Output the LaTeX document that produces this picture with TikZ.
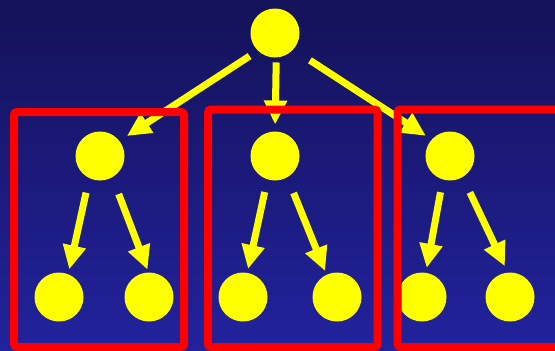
\documentclass[tikz,border=0pt]{standalone}
\usetikzlibrary{arrows.meta}
\definecolor{skytop}{RGB}{20,18,88}
\definecolor{skybottom}{RGB}{34,34,158}
\definecolor{nodeyellow}{RGB}{255,255,0}
\definecolor{groupred}{RGB}{255,0,0}
\tikzset{
    tree diagram/.style = {x=1pt, y=-1pt},
    dot/.style          = {circle, fill=nodeyellow, draw=none,
                           minimum size=49pt, inner sep=0pt, outer sep=0pt},
    link/.style         = {draw=nodeyellow, line width=7pt,
                           -{Triangle[width=22pt, length=24pt]}},
    group/.style        = {draw=groupred, line width=8pt, rounded corners=3pt}
}

\begin{document}
\begin{tikzpicture}[tree diagram]

% ================= Background =================
\useasboundingbox (0, 0) rectangle (555, 351);
\shade[top color=skytop, bottom color=skybottom] (0, 0) rectangle (555, 351);

% ================= Root =================
\node[dot] (root) at (275, 33) {};

% ================= Second level =================
\node[dot] (A) at (100, 156) {};
\node[dot] (B) at (275, 156) {};
\node[dot] (C) at (450, 156) {};

% ================= Leaves =================
\node[dot] (A1) at (59, 297) {};
\node[dot] (A2) at (149, 297) {};
\node[dot] (B1) at (243, 297) {};
\node[dot] (B2) at (337, 297) {};
\node[dot] (C1) at (422, 297) {};
\node[dot] (C2) at (510, 297) {};

% ================= Links from the root =================
\draw[link, shorten <=10pt, shorten >=9pt] (root.226) -- (A.38);
\draw[link, shorten <=5pt,  shorten >=7pt] (root.273) -- (B.90);
\draw[link, shorten <=20pt, shorten >=7pt] (root.318) -- (C.138);

% ================= Links to the leaves =================
\draw[link, shorten <=15pt, shorten >=5pt] (A.244) -- (A1.68);
\draw[link, shorten <=18pt, shorten >=3pt] (A.300) -- (A2.91);
\draw[link, shorten <=13pt, shorten >=4pt] (B.252) -- (B1.80);
\draw[link, shorten <=17pt, shorten >=4pt] (B.300) -- (B2.115);
\draw[link, shorten <=13pt, shorten >=5pt] (C.253) -- (C1.81);
\draw[link, shorten <=17pt, shorten >=7pt] (C.301) -- (C2.95);

% ================= Subtree frames =================
\draw[group] (14, 112) rectangle (184, 347);
\draw[group] (208, 109.5) rectangle (377.5, 347);
\draw[group] (397.5, 109.5) rectangle (565, 347);

\end{tikzpicture}
\end{document}
